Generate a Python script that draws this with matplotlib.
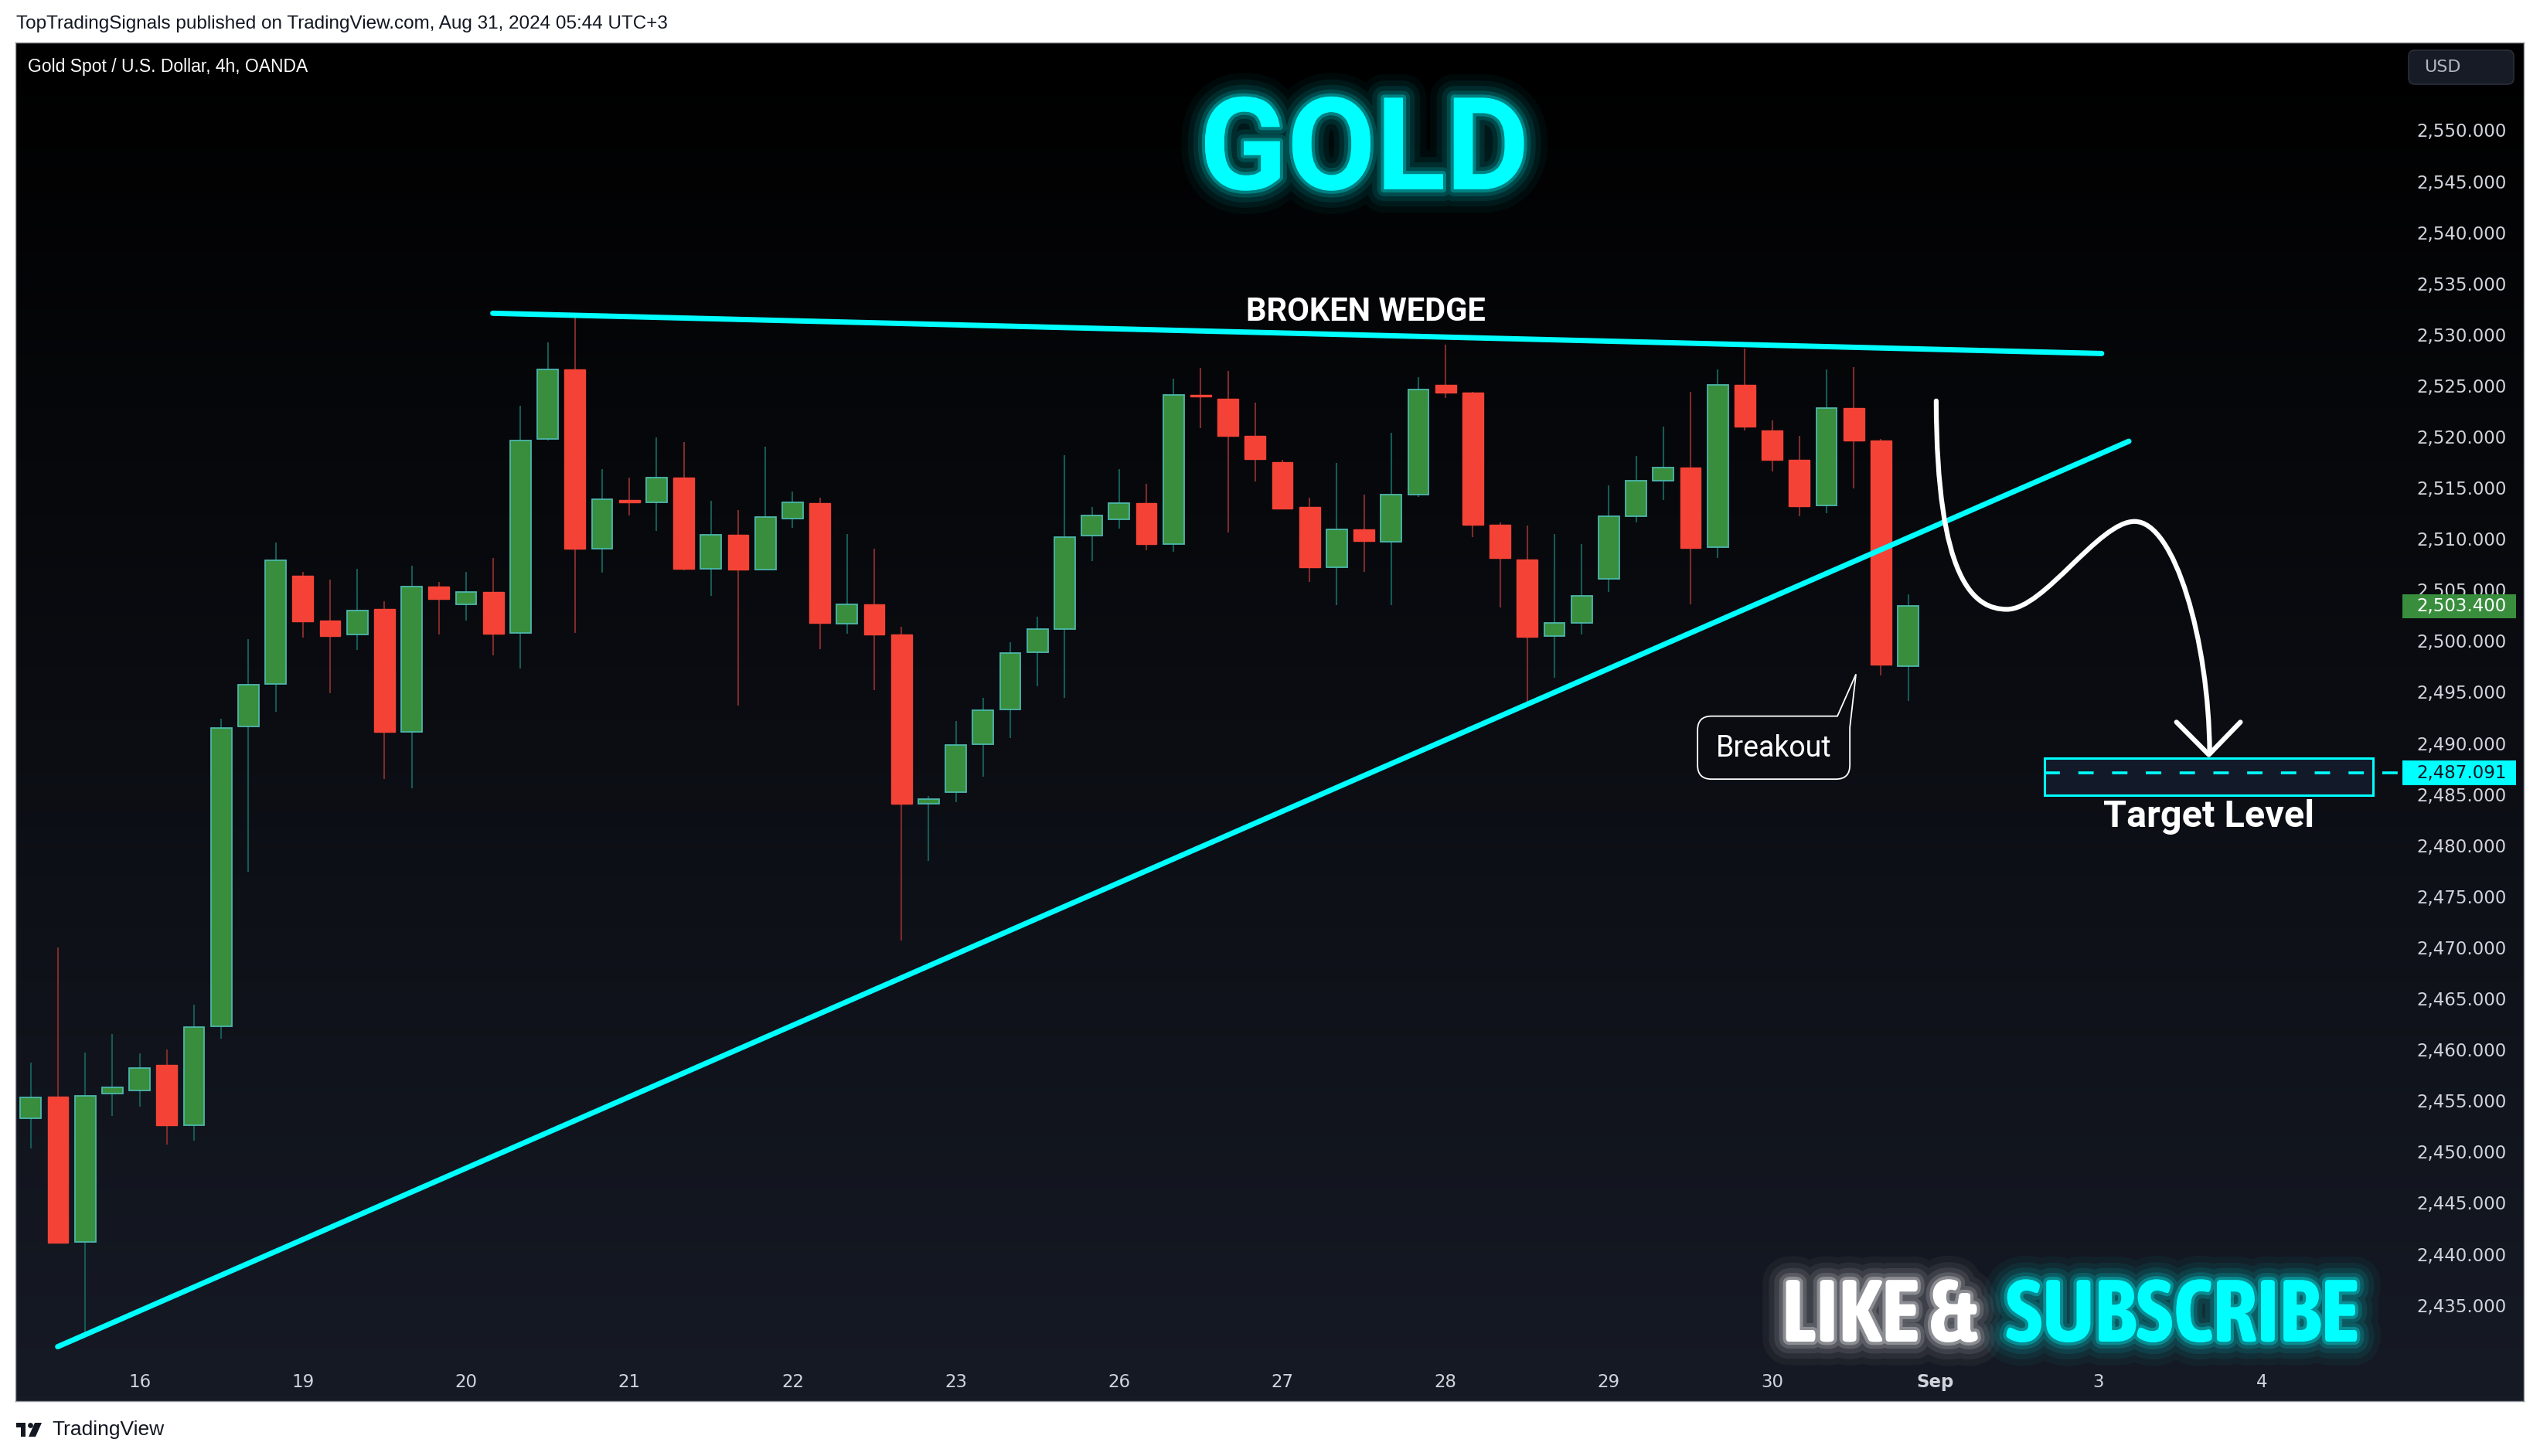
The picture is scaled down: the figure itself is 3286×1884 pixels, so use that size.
import numpy as np
import matplotlib
matplotlib.use('Agg')
import matplotlib.pyplot as plt
import matplotlib.patches as mpatches
import matplotlib.patheffects as pe
import matplotlib.transforms as mtransforms
from matplotlib.path import Path

W, H, DPI = 3286, 1884, 100

# --- 4h OHLC bars, XAUUSD (OANDA), Aug 15 - Aug 30 2024 ---
opens = [2453.3, 2455.4, 2441.2, 2455.7, 2456.0, 2458.5, 2452.6, 2462.3, 2491.6, 2495.8,
         2506.4, 2502.0, 2500.6, 2503.1, 2491.1, 2505.3, 2503.6, 2504.8, 2500.8, 2519.8,
         2526.6, 2509.0, 2513.8, 2513.6, 2516.0, 2507.1, 2510.4, 2507.0, 2512.0, 2513.5,
         2501.7, 2503.6, 2500.6, 2484.1, 2485.2, 2489.9, 2493.3, 2498.9, 2501.2, 2510.3,
         2511.9, 2513.5, 2509.5, 2524.1, 2523.7, 2520.1, 2517.5, 2513.1, 2507.2, 2510.9,
         2509.7, 2514.3, 2525.1, 2524.3, 2511.4, 2508.0, 2500.5, 2501.8, 2506.1, 2512.2,
         2515.7, 2517.0, 2509.2, 2525.1, 2520.6, 2517.7, 2513.3, 2522.8, 2519.6, 2497.5]
highs = [2458.7, 2470.0, 2459.7, 2461.5, 2459.6, 2460.0, 2464.4, 2492.4, 2500.2, 2509.6,
         2506.8, 2506.0, 2507.1, 2503.9, 2507.4, 2505.8, 2506.8, 2508.1, 2523.0, 2529.2,
         2531.7, 2516.8, 2516.0, 2519.9, 2519.5, 2513.7, 2512.8, 2519.0, 2514.6, 2514.0,
         2510.5, 2509.0, 2501.4, 2484.8, 2492.2, 2494.4, 2499.9, 2502.4, 2518.2, 2513.1,
         2516.8, 2515.4, 2525.7, 2526.7, 2526.4, 2523.3, 2517.7, 2514.0, 2517.4, 2514.3,
         2520.4, 2525.8, 2529.0, 2524.4, 2511.6, 2511.3, 2510.5, 2509.5, 2515.2, 2518.1,
         2521.0, 2524.4, 2526.6, 2528.6, 2521.6, 2520.1, 2526.6, 2526.8, 2519.8, 2504.6]
lows = [2450.3, 2441.0, 2432.1, 2453.5, 2454.4, 2450.7, 2451.1, 2461.1, 2477.4, 2493.1,
        2500.3, 2494.9, 2499.1, 2486.5, 2485.6, 2500.6, 2502.0, 2498.6, 2497.3, 2519.6,
        2500.8, 2506.7, 2512.3, 2510.8, 2506.9, 2504.4, 2493.7, 2506.9, 2511.1, 2499.2,
        2500.7, 2495.2, 2470.7, 2478.5, 2484.2, 2486.7, 2490.5, 2495.6, 2494.4, 2507.8,
        2511.0, 2508.9, 2508.7, 2520.8, 2510.6, 2515.6, 2512.9, 2505.8, 2503.5, 2506.8,
        2503.5, 2514.1, 2523.8, 2510.2, 2503.3, 2493.6, 2496.4, 2500.6, 2504.8, 2511.6,
        2513.8, 2503.6, 2508.1, 2520.6, 2516.6, 2512.2, 2512.5, 2514.9, 2496.6, 2494.1]
closes = [2455.3, 2441.1, 2455.5, 2456.3, 2458.2, 2452.6, 2462.2, 2491.5, 2495.7, 2507.9,
          2501.9, 2500.5, 2503.0, 2491.1, 2505.3, 2504.1, 2504.8, 2500.7, 2519.6, 2526.6,
          2509.0, 2513.9, 2513.6, 2516.0, 2507.1, 2510.4, 2507.0, 2512.1, 2513.6, 2501.8,
          2503.6, 2500.6, 2484.1, 2484.5, 2489.8, 2493.2, 2498.8, 2501.2, 2510.2, 2512.3,
          2513.5, 2509.5, 2524.1, 2523.9, 2520.1, 2517.8, 2513.0, 2507.2, 2510.9, 2509.8,
          2514.3, 2524.6, 2524.3, 2511.4, 2508.1, 2500.4, 2501.8, 2504.4, 2512.2, 2515.7,
          2517.0, 2509.1, 2525.1, 2521.0, 2517.7, 2513.2, 2522.8, 2519.6, 2497.7, 2503.4]

# time axis: bar index where each labelled day starts (6 bars per day)
day_start_bar = [4, 10, 16, 22, 28, 34, 40, 46, 52, 58, 64, 70, 76, 82]
day_labels = ['16', '19', '20', '21', '22', '23', '26', '27', '28', '29', '30', 'Sep', '3', '4']
price_ticks = np.arange(2435, 2551, 5)

# drawings (bar index, price)
upper_line = ([16.98, 76.11], [2532.08, 2528.14])
lower_line = ([0.99, 77.11], [2430.92, 2519.55])
path_pts = [(70.03, 2523.5), (70.05, 2506.0), (71.4, 2503.1), (72.63, 2503.1),
            (74.0, 2503.1), (76.0, 2511.7), (77.32, 2511.7),
            (78.8, 2511.7), (80.05, 2500.0), (80.08, 2489.1)]
arrow_head = ([78.86, 80.05, 81.21], [2492.06, 2488.87, 2492.06])
target_box = (74.02, 86.08, 2484.89, 2488.5)
target_price = 2487.091
last_price = 2503.4

CYAN = '#00ffff'
UP, UP_EDGE, UP_WICK = '#388e3c', '#4db6ac', '#155a55'
DN, DN_EDGE, DN_WICK = '#f44336', '#f44336', '#7e2b2b'
TXT = '#d1d4dc'
SANS = ['Roboto', 'DejaVu Sans']
COND = ['Asap Condensed', 'Roboto', 'DejaVu Sans']

fig = plt.figure(figsize=(W / DPI, H / DPI), dpi=DPI, facecolor='white')
px = mtransforms.Affine2D().scale(1 / W, -1 / H).translate(0, 1) + fig.transFigure

# panel background with gradient
bg = fig.add_axes([20 / W, 1 - 1813 / H, 3245 / W, (1813 - 54.5) / H])
g = np.linspace(0, 1, 256)[:, None, None]
top_c = np.array([0, 0, 0]) / 255
bot_c = np.array([22, 26, 37]) / 255
bg.imshow(top_c + (bot_c - top_c) * g, aspect='auto', extent=[0, 1, 0, 1], origin='upper')
bg.set_xticks([])
bg.set_yticks([])
for s in bg.spines.values():
    s.set_color('#9598a1')
    s.set_linewidth(1)

ax = fig.add_axes([21 / W, 1 - 1762 / H, 3083 / W, (1762 - 54.5) / H])
ax.patch.set_visible(False)
for s in ax.spines.values():
    s.set_visible(False)
ax.set_xlim(-0.534, 87.05)
ax.set_ylim(2429.45, 2558.62)

o = np.array(opens); hi = np.array(highs); lo = np.array(lows); c = np.array(closes)
idx = np.arange(len(o))
up = c > o
body_lo = np.minimum(o, c)
body_h = np.maximum(np.abs(c - o), 0.2)
ax.vlines(idx[up], lo[up], hi[up], color=UP_WICK, lw=1.5, zorder=2)
ax.vlines(idx[~up], lo[~up], hi[~up], color=DN_WICK, lw=1.5, zorder=2)
ax.bar(idx[up], body_h[up], bottom=body_lo[up], width=0.76, color=UP,
       edgecolor=UP_EDGE, linewidth=1.3, zorder=3)
ax.bar(idx[~up], body_h[~up], bottom=body_lo[~up], width=0.76, color=DN,
       edgecolor=DN_EDGE, linewidth=1.0, zorder=3)

# wedge lines
ax.plot(*upper_line, color=CYAN, lw=5, solid_capstyle='round', zorder=4)
ax.plot(*lower_line, color=CYAN, lw=5, solid_capstyle='round', zorder=4)
ax.text(49.07, 2531.35, 'BROKEN WEDGE', color='white', fontsize=30, fontweight='bold',
        family=SANS, ha='center', va='baseline', zorder=6)

# projected path
codes = [Path.MOVETO] + [Path.CURVE4] * 9
ax.add_patch(mpatches.PathPatch(Path(path_pts, codes), fill=False, ec='white', lw=4.5,
                                capstyle='round', zorder=5))
ax.plot(*arrow_head, color='white', lw=4.5, solid_capstyle='round',
        solid_joinstyle='round', zorder=5)

# target zone
x0, x1, y0, y1 = target_box
ax.add_patch(mpatches.Rectangle((x0, y0), x1 - x0, y1 - y0, fc='#121a29', ec=CYAN,
                                lw=2.2, zorder=4))
ax.plot([x0, ax.get_xlim()[1]], [target_price, target_price], color=CYAN, lw=2.6,
        linestyle=(0, (5.5, 6.6)), zorder=5)
ax.text((x0 + x1) / 2, 2481.81, 'Target Level', color='white', fontsize=35,
        fontweight='bold', family=SANS, ha='center', va='baseline', zorder=6)

# axes ticks
ax.set_xticks(day_start_bar)
ax.set_xticklabels(day_labels)
ax.tick_params(axis='x', length=0, pad=11, labelsize=16.5, labelcolor=TXT)
for t in ax.get_xticklabels():
    if t.get_text() == 'Sep':
        t.set_fontweight('bold')
ax.yaxis.tick_right()
ax.set_yticks(price_ticks)
ax.set_yticklabels([f'{v:,.3f}' for v in price_ticks])
ax.tick_params(axis='y', length=0, pad=100, labelsize=16.5, labelcolor=TXT)
for t in ax.get_yticklabels():
    t.set_ha('right')

# price labels on the scale
trans = mtransforms.blended_transform_factory(ax.transAxes, ax.transData)
for price, fc, tc in [(last_price, '#388e3c', 'white'), (target_price, CYAN, '#131722')]:
    ax.add_patch(mpatches.Rectangle((1.0013, price - 1.17), 0.0477, 2.35, transform=trans,
                                    fc=fc, ec='none', clip_on=False, zorder=7))
    ax.text(1.0451, price, f'{price:,.3f}', transform=trans, ha='right', va='center',
            fontsize=16.5, color=tc, zorder=8, clip_on=False)

# breakout callout, drawn in pixels around its tip
tip_x, tip_y = 67.08, 2496.75
call = mtransforms.Affine2D().scale(1, -1) + mtransforms.ScaledTranslation(tip_x, tip_y, ax.transData)
L, R, T, B, r = -204.9, -7.9, 54.3, 135.8, 18
verts = [(L + r, T), (-24, T), (0, 0), (R, 69), (R, B - r), (R, B), (R - r, B),
         (L + r, B), (L, B), (L, B - r), (L, T + r), (L, T), (L + r, T), (L + r, T)]
pcodes = [Path.MOVETO, Path.LINETO, Path.LINETO, Path.LINETO, Path.LINETO,
          Path.CURVE3, Path.CURVE3, Path.LINETO, Path.CURVE3, Path.CURVE3,
          Path.LINETO, Path.CURVE3, Path.CURVE3, Path.CLOSEPOLY]
ax.add_patch(mpatches.PathPatch(Path(verts, pcodes), transform=call, fc='#0a0c11',
                                ec='white', lw=1.3, zorder=6, clip_on=False))
ax.text(-106, 107, 'Breakout', transform=call, color='white', fontsize=27,
        family=SANS, ha='center', va='baseline', zorder=7)

# glowing headline texts
def glow(color):
    return [pe.Stroke(linewidth=lw, foreground=color, alpha=a)
            for lw, a in [(44, 0.04), (32, 0.06), (22, 0.09), (13, 0.15), (6, 0.3)]] + [pe.Normal()]

fig.text(1765, 245, 'GOLD', transform=px, color=CYAN, fontsize=120, fontweight='bold',
         family=SANS, ha='center', va='baseline', path_effects=glow(CYAN), zorder=10)
fig.text(2305, 1736, 'LIKE &', transform=px, color='white', fontsize=82, fontweight='bold',
         family=COND, ha='left', va='baseline', path_effects=glow('white'), zorder=10)
fig.text(3051, 1736, 'SUBSCRIBE', transform=px, color=CYAN, fontsize=82, fontweight='bold',
         family=COND, ha='right', va='baseline', path_effects=glow(CYAN), zorder=10)

# header / chart title / currency button
fig.text(21, 31, 'TopTradingSignals published on TradingView.com, Aug 31, 2024 05:44 UTC+3',
         transform=px, color='#131722', fontsize=17.5, family=['Liberation Sans', 'DejaVu Sans'],
         va='center')
fig.text(36, 86, 'Gold Spot / U.S. Dollar, 4h, OANDA', transform=px, color='white',
         fontsize=16.5, family=['Liberation Sans', 'DejaVu Sans'], va='center')
fig.patches.append(mpatches.FancyBboxPatch((3116, 65), 136, 44, boxstyle='round,pad=0,rounding_size=8',
                                           transform=px, fc='#171b26', ec='#2a2e39', lw=1.2))
fig.text(3136, 87, 'USD', transform=px, color='#b2b5be', fontsize=16, va='center')

# footer logo
fig.patches.append(mpatches.Rectangle((21, 1841), 12, 6, transform=px, fc='#131722'))
fig.patches.append(mpatches.Rectangle((27, 1841), 6, 18, transform=px, fc='#131722'))
fig.patches.append(mpatches.Circle((39.5, 1844.5), 3.4, transform=px, fc='#131722'))
fig.patches.append(mpatches.Polygon([(45, 1841), (54, 1841), (46, 1859), (37, 1859)],
                                    transform=px, fc='#131722'))
fig.text(67, 1850, 'TradingView', transform=px, color='#131722', fontsize=19,
         family=['Liberation Sans', 'DejaVu Sans'], va='center')

fig.savefig('out.png', dpi=DPI, facecolor='white')
